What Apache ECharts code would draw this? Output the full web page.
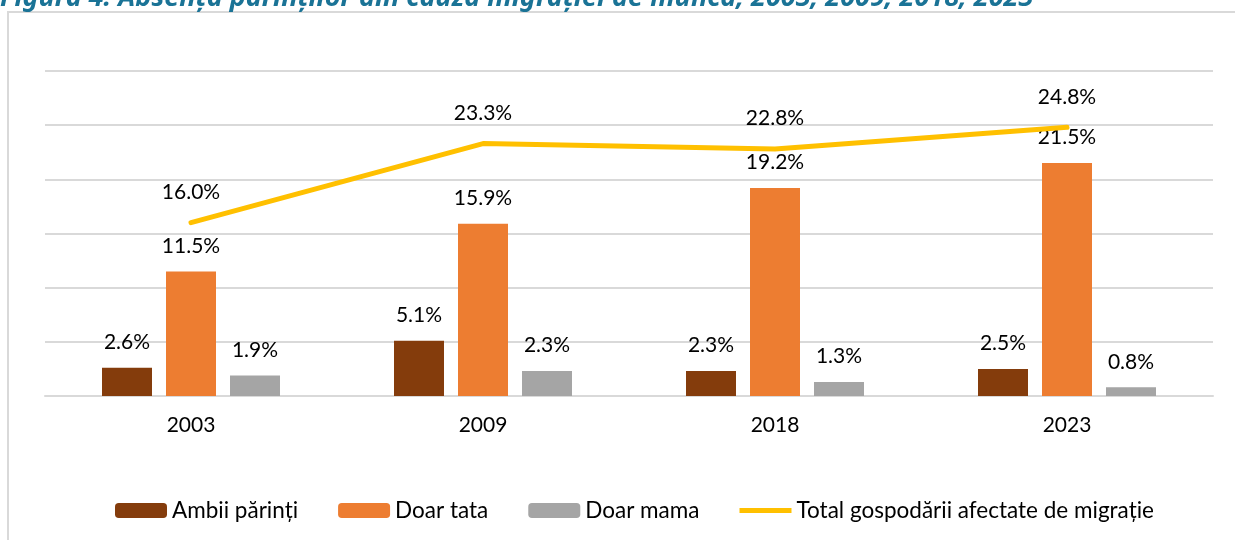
<!DOCTYPE html>
<html>
<head>
<meta charset="utf-8">
<script src="https://cdn.jsdelivr.net/npm/echarts@6/dist/echarts.min.js"></script>
<style>
  html, body { margin: 0; padding: 0; background: #fff; }
  #main { width: 1235px; height: 540px; }
</style>
</head>
<body>
<div id="main"></div>
<script>
// date
var years = ['2003', '2009', '2018', '2023'];
var ambiiParinti = [2.6, 5.1, 2.3, 2.5];
var doarTata = [11.5, 15.9, 19.2, 21.5];
var doarMama = [1.9, 2.3, 1.3, 0.8];
var totalGosp = [16.0, 23.3, 22.8, 24.8];

var fontName = 'Lato';
var pct = function (p) { return p.value.toFixed(1) + '%'; };

var myChart = echarts.init(document.getElementById('main'));

function barSeries(name, data, color) {
    return {
        name: name,
        type: 'bar',
        data: data,
        barWidth: 50,
        barGap: '28%',
        itemStyle: { color: color },
        label: {
            show: true,
            position: 'top',
            distance: 15,
            formatter: pct,
            color: '#000',
            fontFamily: fontName,
            fontSize: 21
        }
    };
}

myChart.setOption({
    animation: false,
    graphic: [
        {
            type: 'rect',
            shape: { x: 8, y: 12, width: 1400, height: 700 },
            style: { fill: 'none', stroke: '#d9d9d9', lineWidth: 2 }
        },
        {
            type: 'text',
            x: 0,
            y: 12,
            style: {
                text: 'Figura 4. Absența părinților din cauza migrației de muncă, 2003, 2009, 2018, 2023',
                fill: '#1a7396',
                font: 'italic bold 27px "Noto Sans"',
                verticalAlign: 'bottom'
            }
        }
    ],
    grid: { left: 45, right: 22, top: 71, bottom: 144 },
    legend: {
        bottom: 13,
        left: 110,
        itemWidth: 52,
        itemHeight: 15,
        itemGap: 40,
        textStyle: { fontFamily: fontName, fontSize: 22.5, color: '#000' },
        data: [
            'Ambii părinți',
            'Doar tata',
            'Doar mama',
            { name: 'Total gospodării afectate de migrație', icon: 'path://M0,0 L100,0 L100,10 L0,10 Z' }
        ]
    },
    xAxis: {
        type: 'category',
        data: years,
        axisLine: { lineStyle: { color: '#d9d9d9', width: 2 } },
        axisTick: { show: false },
        axisLabel: { color: '#000', fontFamily: fontName, fontSize: 21, margin: 19 }
    },
    yAxis: {
        type: 'value',
        min: 0,
        max: 30,
        interval: 5,
        axisLabel: { show: false },
        axisLine: { show: false },
        axisTick: { show: false },
        splitLine: { lineStyle: { color: '#d9d9d9', width: 2 } }
    },
    series: [
        barSeries('Ambii părinți', ambiiParinti, '#843c0c'),
        barSeries('Doar tata', doarTata, '#ed7d31'),
        barSeries('Doar mama', doarMama, '#a5a5a5'),
        {
            name: 'Total gospodării afectate de migrație',
            type: 'line',
            data: totalGosp,
            symbol: 'circle',
            symbolSize: 0,
            showSymbol: true,
            lineStyle: { color: '#ffc000', width: 5, cap: 'round' },
            itemStyle: { color: '#ffc000' },
            label: {
                show: true,
                position: 'top',
                distance: 20,
                formatter: pct,
                color: '#000',
                fontFamily: fontName,
                fontSize: 21
            }
        }
    ]
});
</script>
</body>
</html>
